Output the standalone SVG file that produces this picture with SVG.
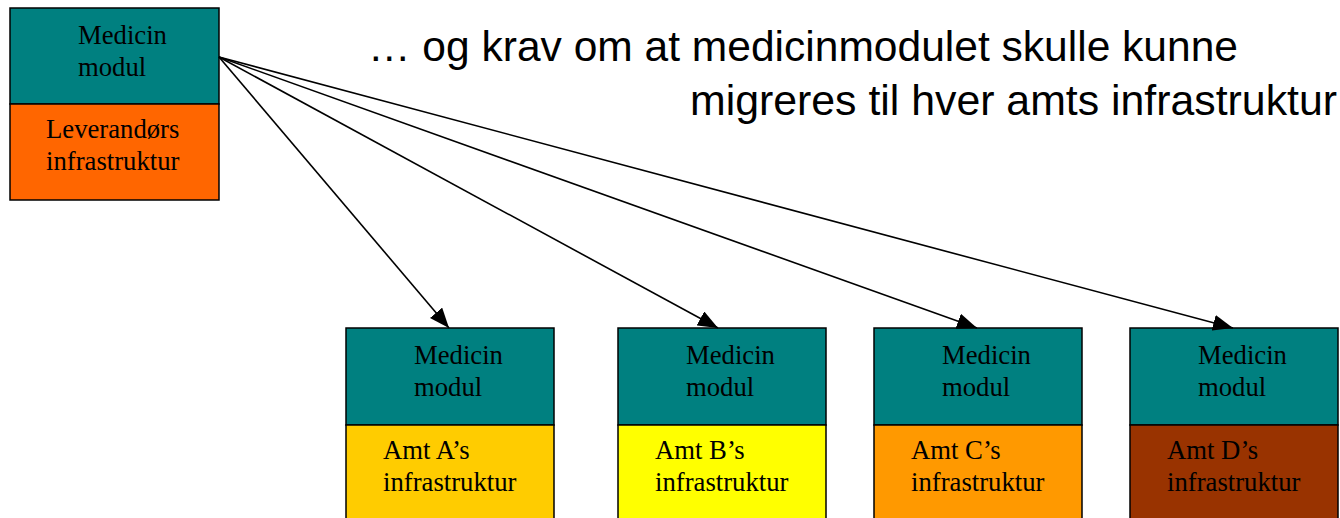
<svg xmlns="http://www.w3.org/2000/svg" width="1340" height="518" viewBox="0 0 1340 518">
  <style>
    .box { stroke: #000; stroke-width: 1.5; }
    .teal { fill: #008080; }
    .lbl { font-family: "Liberation Serif", "Times New Roman", serif; font-size: 26.7px; fill: #000; }
    .title { font-family: "Liberation Sans", Arial, sans-serif; font-size: 42px; fill: #000; }
    .conn { stroke: #000; stroke-width: 1.6; fill: none; marker-end: url(#arrow); }
  </style>
  <defs>
    <marker id="arrow" markerUnits="userSpaceOnUse" markerWidth="20" markerHeight="16" viewBox="0 0 20 16" refX="20" refY="8" orient="auto">
      <path d="M0,0 L20,8 L0,16 Z" fill="#000"/>
    </marker>
  </defs>
  <rect width="1340" height="518" fill="#fff"/>

  <g id="source">
    <rect class="box teal" x="10" y="8" width="209" height="96"/>
    <rect class="box" x="10" y="104" width="209" height="96" fill="#FF6600"/>
    <text class="lbl" x="78" y="44">Medicin</text>
    <text class="lbl" x="78" y="76">modul</text>
    <text class="lbl" x="46" y="138">Leverandørs</text>
    <text class="lbl" x="46" y="170">infrastruktur</text>
  </g>

  <g id="title">
    <text class="title" x="368" y="61" textLength="870" lengthAdjust="spacingAndGlyphs">… og krav om at medicinmodulet skulle kunne</text>
    <text class="title" x="690" y="115" textLength="647" lengthAdjust="spacingAndGlyphs">migreres til hver amts infrastruktur</text>
  </g>

  <g id="amtA">
    <rect class="box teal" x="346" y="328" width="208" height="97"/>
    <rect class="box" x="346" y="425" width="208" height="97" fill="#FFCC00"/>
    <text class="lbl" x="414" y="364">Medicin</text>
    <text class="lbl" x="414" y="396">modul</text>
    <text class="lbl" x="383" y="459">Amt A’s</text>
    <text class="lbl" x="383" y="491">infrastruktur</text>
  </g>

  <g id="amtB">
    <rect class="box teal" x="618" y="328" width="208" height="97"/>
    <rect class="box" x="618" y="425" width="208" height="97" fill="#FFFF00"/>
    <text class="lbl" x="686" y="364">Medicin</text>
    <text class="lbl" x="686" y="396">modul</text>
    <text class="lbl" x="655" y="459">Amt B’s</text>
    <text class="lbl" x="655" y="491">infrastruktur</text>
  </g>

  <g id="amtC">
    <rect class="box teal" x="874" y="328" width="208" height="97"/>
    <rect class="box" x="874" y="425" width="208" height="97" fill="#FF9900"/>
    <text class="lbl" x="942" y="364">Medicin</text>
    <text class="lbl" x="942" y="396">modul</text>
    <text class="lbl" x="911" y="459">Amt C’s</text>
    <text class="lbl" x="911" y="491">infrastruktur</text>
  </g>

  <g id="amtD">
    <rect class="box teal" x="1130" y="328" width="208" height="97"/>
    <rect class="box" x="1130" y="425" width="208" height="97" fill="#993300"/>
    <text class="lbl" x="1198" y="364">Medicin</text>
    <text class="lbl" x="1198" y="396">modul</text>
    <text class="lbl" x="1167" y="459">Amt D’s</text>
    <text class="lbl" x="1167" y="491">infrastruktur</text>
  </g>

  <g id="connectors">
    <line class="conn" x1="219" y1="57" x2="449" y2="328"/>
    <line class="conn" x1="219" y1="57" x2="718" y2="328"/>
    <line class="conn" x1="219" y1="57" x2="977" y2="328"/>
    <line class="conn" x1="219" y1="57" x2="1233" y2="328"/>
  </g>
</svg>
